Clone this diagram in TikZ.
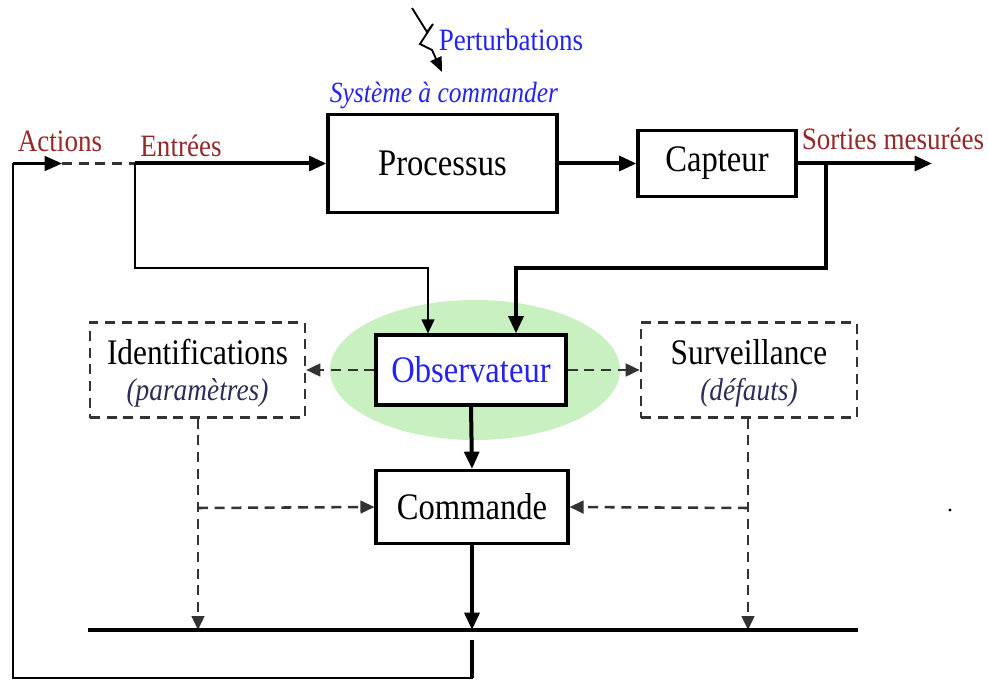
\documentclass[tikz,border=0pt]{standalone}
\usepackage{fontspec}
\setmainfont{Liberation Serif}[FakeStretch=0.87]
\usetikzlibrary{arrows.meta,shapes.geometric}
\definecolor{brick}{HTML}{952828}
\definecolor{obsblue}{HTML}{2424F0}
\definecolor{halo}{HTML}{C8F0C0}
\definecolor{subnavy}{HTML}{2C2C58}

\begin{document}
\begin{tikzpicture}[x=0.75pt,y=-0.75pt,
  bigtip/.style={-{Triangle[length=13pt,width=11pt]}},
  smalltip/.style={-{Triangle[length=10.5pt,width=9.5pt]}},
  heavy/.style={line width=3pt},
  medium/.style={line width=1.6pt},
  dash line/.style={line width=1.9pt,draw=black!80,dash pattern=on 7.5pt off 5pt},
  box/.style={draw,line width=2.3pt,fill=white,inner sep=0pt},
  dbox/.style={draw=black!80,line width=1.9pt,dash pattern=on 7.5pt off 5pt,inner sep=0pt},
  big/.style={font=\fontsize{28.1}{32}\selectfont},
  mid/.style={font=\fontsize{27}{31}\selectfont},
  small/.style={font=\fontsize{23.3}{27}\selectfont},
  sub/.style={font=\fontsize{23.6}{27}\selectfont\itshape,text=subnavy},
  lab/.style={font=\fontsize{23.3}{27}\selectfont,text=brick,inner sep=0pt},
]
\useasboundingbox (0,0) rectangle (988,681);

% halo behind the observer
\node[ellipse,fill=halo,minimum width=217.5pt,minimum height=105pt,inner sep=0pt] (halo) at (475,370) {};

% main blocks
\node[box,minimum width=171.75pt,minimum height=73.5pt,big] (proc) at (442.5,163.5) {Processus};
\node[box,minimum width=118.5pt,minimum height=49.5pt,big] (capt) at (717,163.5) {Capteur};
\node[box,minimum width=142.5pt,minimum height=52.5pt,big,text=obsblue] (obs) at (471,370) {Observateur};
\node[box,minimum width=144pt,minimum height=54.75pt,big] (cmd) at (472,507) {Commande};

% dashed side blocks
\node[dbox,minimum width=161.25pt,minimum height=71.25pt] (ident) at (197.5,370) {};
\node[mid,inner sep=0pt] (identt) at (197.5,352) {Identifications};
\node[sub,inner sep=0pt] (identp) at (197.5,393) {(paramètres)};
\node[dbox,minimum width=162pt,minimum height=71.25pt] (surv) at (749,370) {};
\node[mid,inner sep=0pt] (survt) at (749,352) {Surveillance};
\node[sub,inner sep=0pt] (survp) at (749,393) {(défauts)};

% labels
\node[font=\fontsize{22}{26}\selectfont\itshape,text=obsblue,inner sep=0pt] (sys) at (444,95) {Système à commander};
\node[small,text=obsblue,inner sep=0pt] (pert) at (511,40) {Perturbations};
\node[lab] (act) at (60,141) {Actions};
\node[lab] (ent) at (181,146) {Entrées};
\node[lab] (sor) at (893,139) {Sorties mesurées};

% junction and corner points
\coordinate (ej) at (135,163.5);
\coordinate (al) at (13,163.5);
\coordinate (atip) at (62,163.5);
\coordinate (eb) at (428,268);
\coordinate (sj) at (826,163.5);
\coordinate (sb) at (516,268);
\coordinate (sout) at (932,163.5);
\coordinate (busL) at (88,630);
\coordinate (busR) at (858,630);
\coordinate (lc) at (13,678);
\coordinate (bc) at (472,678);
\coordinate (bt) at (472,640);
\coordinate (il) at (198,508);
\coordinate (sr) at (748,508);

% disturbance
\coordinate (p1) at (412,8);
\coordinate (p2) at (427,32);
\coordinate (p3) at (433,24);
\coordinate (p4) at (420,44);
\coordinate (p5) at (432,50);
\coordinate (p6) at (442,72);
\draw[line width=1.4pt,-{Triangle[length=11pt,width=9pt]}] (p1) -- (p2) -- (p3) -- (p4) -- (p5) -- (p6);

% forward path
\draw[heavy,bigtip] (ej) -- (proc.west);
\draw[heavy,bigtip] (proc.east) -- (capt.west);
\draw[heavy,bigtip] (capt.east) -- (sout);

% actions loop
\draw[line width=2pt] (bt) -- (bc) -- (lc) -- (al);
\draw[heavy] (bt) -- (bc);
\draw[line width=2pt,bigtip] (al) -- (atip);
\draw[dash line] (atip) -- (ej);

% feeds into the observer
\draw[medium,smalltip] (ej) |- (eb) -- (eb |- obs.north);
\draw[heavy,bigtip] (sj) |- (sb) -- (sb |- obs.north);

% observer outputs
\draw[dash line,smalltip] (obs.west) -- (ident.east);
\draw[dash line,smalltip] (obs.east) -- (surv.west);
\draw[heavy,bigtip] (obs.south) -- (cmd.north);

% side block outputs
\draw[dash line,smalltip] (ident.south -| il) -- (il |- busL);
\draw[dash line,smalltip] (il) -- (cmd.west);
\draw[dash line,smalltip] (surv.south -| sr) -- (sr |- busL);
\draw[dash line,smalltip] (sr) -- (cmd.east);

% command to bus
\draw[heavy,bigtip] (cmd.south) -- (cmd.south |- busL);
\draw[heavy] (busL) -- (busR);

% stray dot
\fill (950,510) circle (1.2pt);
\end{tikzpicture}
\end{document}
